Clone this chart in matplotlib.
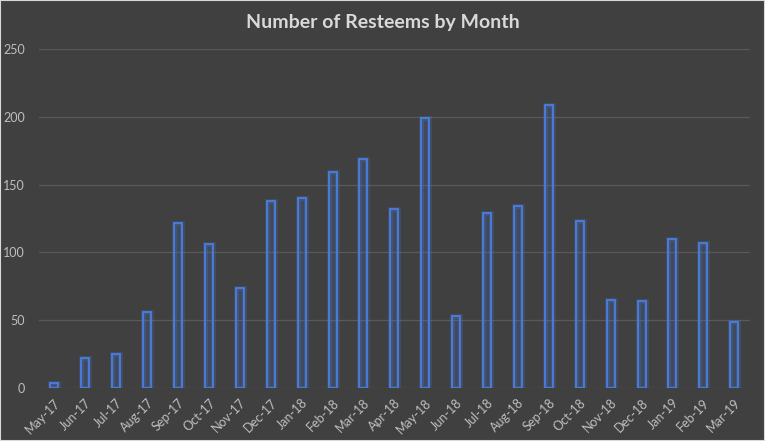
import numpy as np
import matplotlib
matplotlib.use("Agg")
import matplotlib.pyplot as plt

months = ["May-17", "Jun-17", "Jul-17", "Aug-17", "Sep-17", "Oct-17", "Nov-17",
          "Dec-17", "Jan-18", "Feb-18", "Mar-18", "Apr-18", "May-18", "Jun-18",
          "Jul-18", "Aug-18", "Sep-18", "Oct-18", "Nov-18", "Dec-18", "Jan-19",
          "Feb-19", "Mar-19"]
resteems = [4, 22, 25, 56, 122, 106, 74, 138, 140, 159, 169, 132, 199, 53,
            129, 134, 209, 123, 65, 64, 110, 107, 49]
yticks = [0, 50, 100, 150, 200, 250]

bg = "#404040"
edge = "#4a7ee0"
plt.rcParams['font.family'] = ['Lato', 'DejaVu Sans']

fig = plt.figure(figsize=(7.65, 4.41), dpi=100, facecolor=bg)
ax = fig.add_axes([0.051, 0.120, 0.929, 0.769])
ax.set_facecolor(bg)

x = np.arange(len(months))
# glow behind the bars
ax.bar(x, resteems, width=0.26, color="none", edgecolor=edge, linewidth=3.5, alpha=0.22, zorder=2)
ax.bar(x, resteems, width=0.26, color=(0.29, 0.49, 0.88, 0.18), edgecolor=edge, linewidth=1.3, zorder=3)

ax.set_xlim(-0.5, len(months) - 0.5)
ax.set_ylim(0, 250)
ax.set_yticks(yticks)
ax.set_xticks(x)
ax.set_xticklabels(months, rotation=45, ha="right", rotation_mode="anchor")
ax.tick_params(axis="both", length=0, colors="#bfbfbf", labelsize=9)
ax.tick_params(axis="x", pad=6)
ax.tick_params(axis="y", pad=10)
ax.grid(axis="y", color="#595959", linewidth=0.9)
ax.set_axisbelow(True)
for s in ax.spines.values():
    s.set_visible(False)

fig.text(0.5, 0.95, "Number of Resteems by Month", ha="center", va="center",
         color="#d9d9d9", fontsize=14, fontweight="bold")

# thin light frame round the chart
fig.patches.append(plt.Rectangle((0, 0), 1, 1, transform=fig.transFigure,
                                 fill=False, edgecolor="#d9d9d9", linewidth=1.5))

fig.savefig("out.png", dpi=100, facecolor=bg)
